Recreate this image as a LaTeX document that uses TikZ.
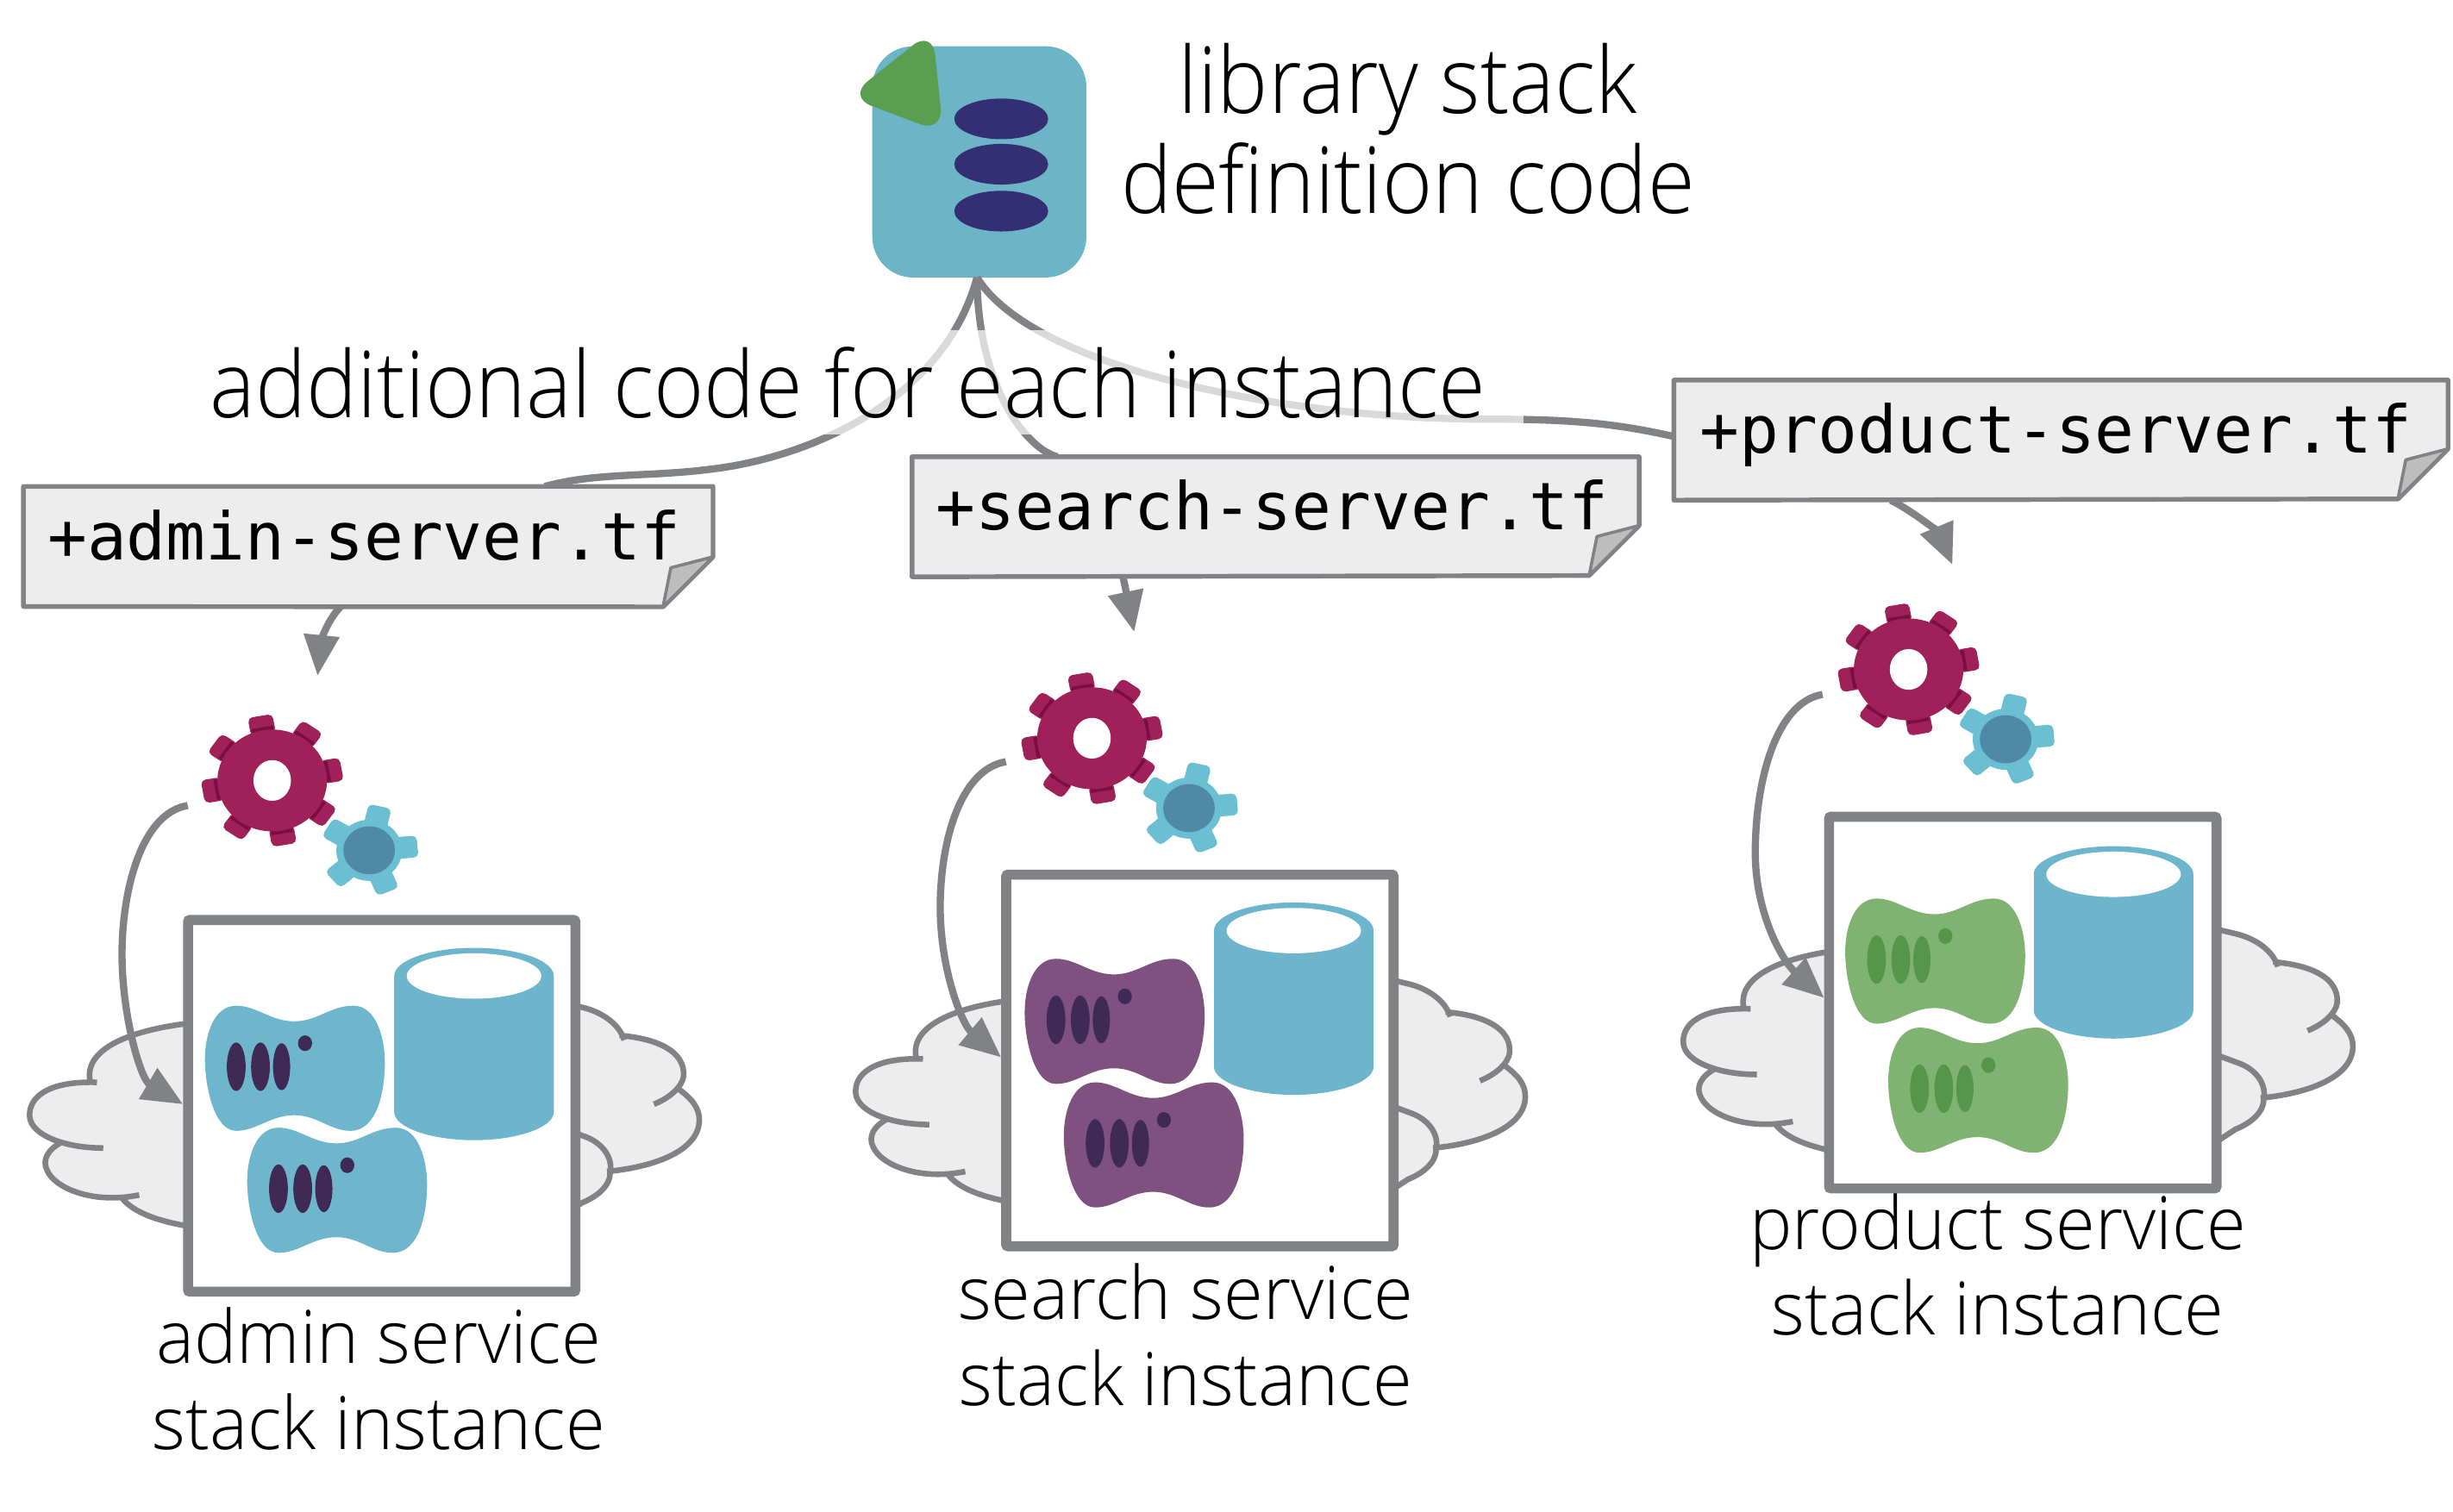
\documentclass[tikz,border=0pt]{standalone}
\usepackage{fontspec}
\usepackage{graphicx}
\setmainfont{Open Sans}[UprightFont=* Light]
\setmonofont{DejaVu Sans Mono}
\usetikzlibrary{arrows.meta,calc}
\definecolor{linegray}{HTML}{808285}
\definecolor{notefill}{HTML}{EDEDED}
\definecolor{foldfill}{HTML}{BDBDBD}
\definecolor{tealb}{HTML}{6CB5CC}
\definecolor{docblue}{HTML}{6BB5C6}
\definecolor{docgreen}{HTML}{5A9E50}
\definecolor{docnavy}{HTML}{342F72}
\definecolor{gearred}{HTML}{A0215A}
\definecolor{geardark}{HTML}{7A0F3F}
\definecolor{gearteal}{HTML}{6ABFD2}
\definecolor{gearcore}{HTML}{5089A8}
\definecolor{srvteal}{HTML}{6DB6CE}
\definecolor{srvpurple}{HTML}{7F5180}
\definecolor{srvgreen}{HTML}{80B272}
\definecolor{markdark}{HTML}{3F2A56}
\definecolor{markgreen}{HTML}{55964A}
\newcommand{\nar}[1]{\scalebox{0.93}[1]{#1}}
\newcommand{\nac}[1]{\scalebox{0.976}[1]{#1}}
\tikzset{
  conn/.style={draw=linegray,line width=2.3pt,-{Triangle[length=13pt,width=11pt]}},
  plainconn/.style={draw=linegray,line width=2.3pt},
  notebox/.style={inner xsep=7.5pt,inner ysep=0pt,align=left,font=\ttfamily\fontsize{21}{21}\selectfont,text height=11pt,text depth=2.5pt,minimum height=38pt,anchor=north west},
  noteline/.style={draw=linegray,line width=1.5pt,fill=notefill,line join=round},
  capt/.style={font=\fontsize{23.5}{27.5}\selectfont,align=center,inner sep=0pt},
  title/.style={font=\fontsize{29.5}{32}\selectfont,align=center,inner sep=0pt},
  instbox/.style={draw=linegray,line width=3.2pt,fill=white,minimum width=123.8pt,minimum height=118.8pt,inner sep=0pt,anchor=north west,rounded corners=0.6pt},
  cloudline/.style={draw=linegray,line width=1.8pt,line cap=butt},
}
% server body, given top-left corner
\newcommand{\serverat}[4]{%
\begin{scope}[shift={(#1,#2)}]
\fill[#3] (20,0) .. controls (33,0) and (42,10) .. (57,10) .. controls (72,10) and (80,0) .. (95,0)
 .. controls (110,0) and (115,22) .. (115,36) .. controls (115,55) and (110,80) .. (93,80)
 .. controls (80,80) and (72,70) .. (57,70) .. controls (42,70) and (33,80) .. (20,80)
 .. controls (6,80) and (0,52) .. (0,34) .. controls (0,18) and (6,0) .. (20,0) -- cycle;
\fill[#4] (20,39) ellipse (6 and 15.5) (35.5,39) ellipse (6 and 15.5) (49,39) ellipse (5.5 and 15) (64,24) ellipse (4.5 and 5);
\end{scope}}
% cylinder, given top-left corner
\newcommand{\cylat}[2]{%
\begin{scope}[shift={(#1,#2)}]
\fill[tealb] (0,18) arc[start angle=180,end angle=360,x radius=51,y radius=18] -- (102,105)
 .. controls (102,115) and (78,123) .. (51,123) .. controls (24,123) and (0,115) .. (0,105) -- cycle;
\fill[white] (51,18) ellipse (43 and 14.5);
\end{scope}}
% both gears, given centre of the big one
\newcommand{\gearsat}[2]{%
\begin{scope}[shift={(#1,#2)},yscale=0.93]
\foreach \a in {-10,35,80,125,170,215,260,305}{
  \fill[gearred,rounded corners=1.5pt,rotate=-\a] (32,-8) rectangle (45,8);
  \fill[geardark,rotate=-\a] (33,-7) rectangle (37,7);
}
\fill[gearred] (0,0) circle (35);
\fill[white] (0,0) ellipse (12 and 14);
\begin{scope}[shift={(62,48)}]
\foreach \a in {-5,67,139,211,283}{
  \fill[gearteal,rounded corners=1.5pt,rotate=-\a] (16,-7.5) rectangle (31,7.5);
}
\fill[gearteal] (0,0) circle (21);
\fill[gearcore] (0,0) circle (16.5);
\end{scope}
\end{scope}}
% cloud, in the admin instance's coordinates, shifted
\newcommand{\cloudat}[2]{%
\begin{scope}[shift={(#1,#2)}]
\fill[notefill] (150,652) -- (115,655) .. controls (80,660) and (55,672) .. (58,692)
 .. controls (30,692) and (18,702) .. (19,714) .. controls (20,722) and (30,728) .. (40,731)
 .. controls (30,735) and (27,742) .. (30,748) .. controls (35,760) and (55,768) .. (78,767)
 .. controls (85,775) and (100,780) .. (115,783) -- (150,790) -- (335,790) -- (372,769)
 .. controls (385,765) and (392,755) .. (390,747) .. controls (420,745) and (447,735) .. (447,716)
 .. controls (447,708) and (440,700) .. (432,696) .. controls (440,690) and (440,675) .. (425,668)
 .. controls (415,663) and (405,662) .. (398,662) .. controls (395,655) and (385,647) .. (372,644) -- (335,635) -- cycle;
\path[cloudline]
 (150,652) -- (115,655) .. controls (80,660) and (52,672) .. (58,693)
 (62,692) .. controls (30,691) and (18,702) .. (19,714) .. controls (20,726) and (42,734) .. (66,734)
 (40,730) .. controls (30,735) and (27,742) .. (30,748) .. controls (35,760) and (60,770) .. (89,764)
 (78,766) .. controls (85,775) and (100,780) .. (115,783) -- (150,790)
 (335,635) -- (372,644) .. controls (385,647) and (396,655) .. (399,665)
 (396,662) .. controls (420,664) and (438,672) .. (437,688) .. controls (436,695) and (428,702) .. (418,706)
 (432,695) .. controls (442,702) and (447,708) .. (447,716) .. controls (447,735) and (420,746) .. (388,749)
 (340,714) -- (372,726) .. controls (385,730) and (392,740) .. (390,750) .. controls (390,758) and (382,765) .. (372,769) -- (340,790);
\end{scope}}
\begin{document}
\begin{tikzpicture}[x=0.5pt,y=-0.5pt]
\useasboundingbox (0,0) rectangle (1568,966.7);
% library document
\node[minimum width=68pt,minimum height=73.5pt,inner sep=0pt] (doc) at (626,103.5) {};
\fill[docblue,rounded corners=13pt] (doc.north west) -- (doc.north east) -- (doc.south east) -- (doc.south west) -- cycle;
\fill[docgreen,rounded corners=8pt] (596,19) -- (603,85) -- (542,62) -- cycle;
\fill[docnavy] (640,76) ellipse (30 and 13) (640,105) ellipse (30 and 13) (640,135) ellipse (30 and 13);
% notes
\node[notebox,text width=205pt] (noteA) at (15,311) {\strut};
\node[notebox,text width=217pt] (noteS) at (583,292) {\strut};
\node[notebox,text width=232pt] (noteP) at (1070,243) {\strut};
% connectors up to the document
\coordinate (docin) at ($(doc.south)+(-1.5,0)$);
\draw[plainconn] ($(noteA.north west)!0.756!(noteA.north east)$) .. controls (385,301) and (420,306) .. (468,298) .. controls (530,287) and (605,250) .. (docin);
\draw[plainconn] ($(noteS.north west)!0.2!(noteS.north east)$) .. controls (658,288) and (625,250) .. (docin);
\draw[plainconn] ($(noteP.north west)!0.47!(noteP.south west)$) .. controls (1030,270) and (1000,268) .. (950,268) .. controls (820,268) and (660,235) .. (docin);
% caption across the connectors
\node[title,fill=white,fill opacity=0.7,text opacity=1,inner sep=0pt,minimum width=432pt,minimum height=33.5pt] (addl) at (542,244.5) {\nar{additional code for each instance}};
% note shapes
\foreach \n/\h in {noteA/77,noteS/76,noteP/76}{
  \draw[noteline] (\n.north west) -- (\n.north east) -- ++(0,\h-32) -- ++(-32,32) -- (\n.south west) -- cycle;
  \draw[draw=linegray,line width=1pt,fill=foldfill,line join=round] (\n.north east) ++(0,\h-32) -- ++(-27,7) -- ++(-5,25) -- cycle;
}
\node[notebox,text width=205pt] (tA) at (15,311) {+admin-server.tf};
\node[notebox,text width=217pt] (tS) at (583,292) {+search-server.tf};
\node[notebox,text width=232pt] (tP) at (1071,243) {+product-server.tf};
\node[title] (libt) at (900,82.5) {\nar{library stack}\\\nar{definition code}};
% arrows down to gears
\gearsat{174}{499}
\gearsat{698}{472}
\gearsat{1220}{428}
\coordinate (gearA) at (203,432);
\coordinate (gearS) at (725,404);
\coordinate (gearP) at (1248,361);
\draw[conn] ($(noteA.south west)!0.46!(noteA.south east)$) .. controls (208,398) and (205,412) .. (gearA);
\draw[conn] ($(noteS.south west)!0.29!(noteS.south east)$) .. controls (720,378) and (722,390) .. (gearS);
\draw[conn] ($(noteP.south west)!0.28!(noteP.south east)$) .. controls (1225,328) and (1240,342) .. (gearP);
% instances
\cloudat{0}{0}
\cloudat{528}{-15}
\cloudat{1057}{-47}
\node[instbox] (boxA) at (117,585) {};
\node[instbox] (boxS) at (640,556) {};
\node[instbox] (boxP) at (1166,519) {};
\coordinate (gA) at (120,515);
\coordinate (gS) at (643,487);
\coordinate (gP) at (1165,444);
\draw[conn] (gA) .. controls (90,520) and (78,570) .. (78,610) .. controls (78,650) and (90,690) .. (boxA.west |- 0,706);
\draw[conn] (gS) .. controls (613,492) and (601,540) .. (601,580) .. controls (601,620) and (615,655) .. (boxS.west |- 0,676);
\draw[conn] (gP) .. controls (1135,449) and (1122,500) .. (1122,545) .. controls (1122,585) and (1140,615) .. (boxP.west |- 0,638);
% contents
\cylat{252}{606}
\serverat{131}{643}{srvteal}{markdark}
\serverat{158}{721}{srvteal}{markdark}
\cylat{776}{577}
\serverat{655}{613}{srvpurple}{markdark}
\serverat{680}{692}{srvpurple}{markdark}
\cylat{1300}{541}
\serverat{1179.5}{574.5}{srvgreen}{markgreen}
\serverat{1207}{657}{srvgreen}{markgreen}
% labels
\node[capt] (capA) at (242,881.5) {\nac{admin service}\\\nac{stack instance}};
\node[capt] (capS) at (758,853.5) {\nac{search service}\\\nac{stack instance}};
\node[capt] (capP) at (1277,808.5) {\nac{product service}\\\nac{stack instance}};
\end{tikzpicture}
\end{document}
